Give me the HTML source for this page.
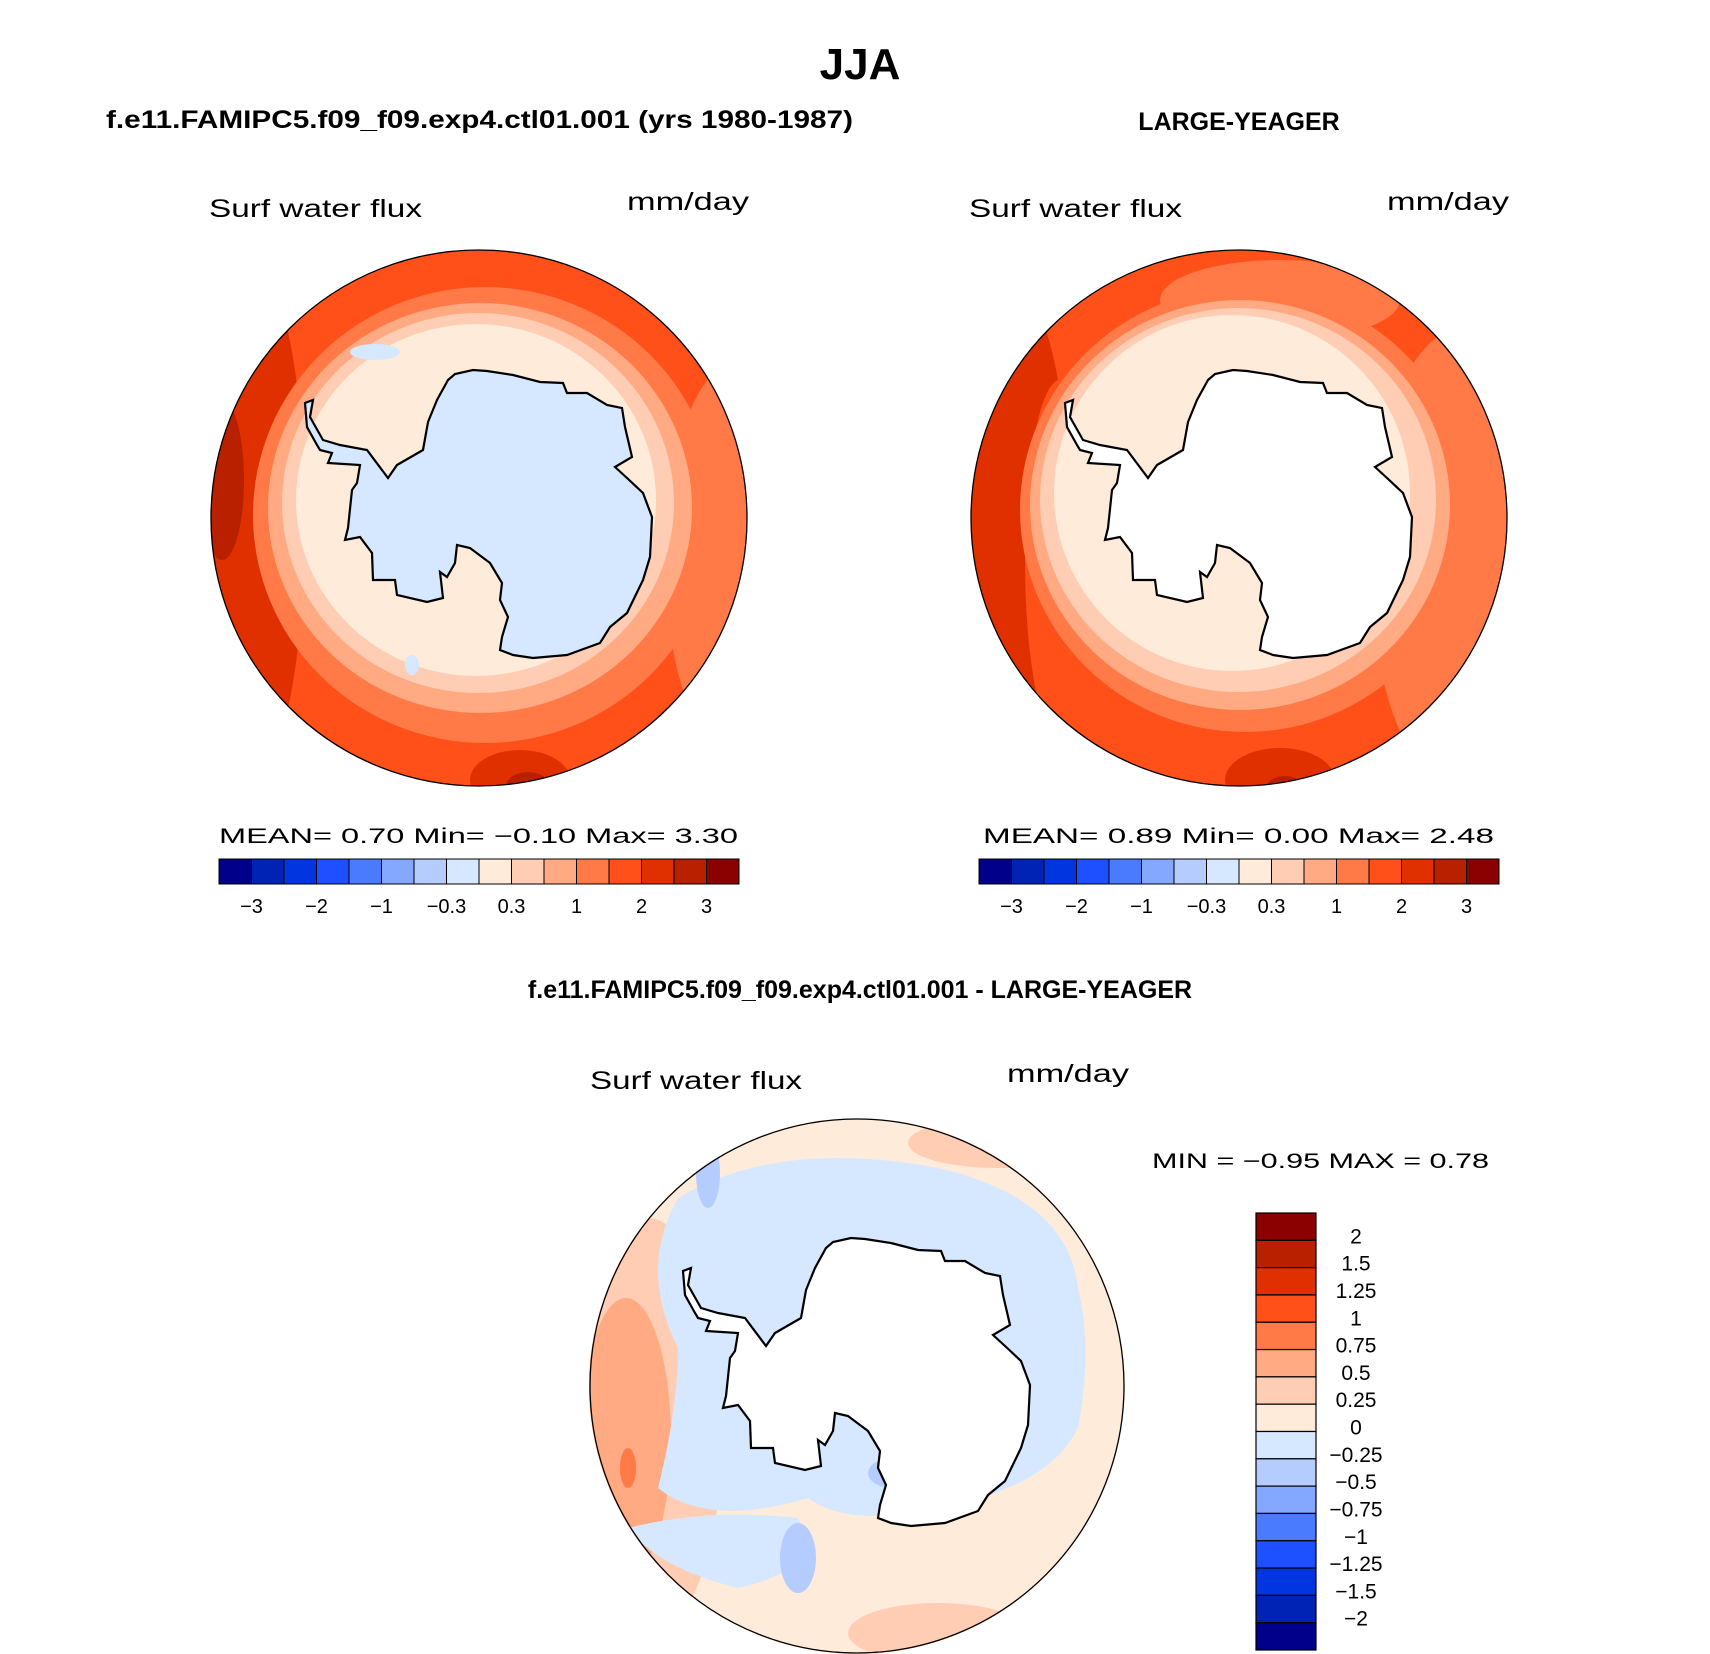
<!DOCTYPE html>
<html><head><meta charset="utf-8"><style>
html,body{margin:0;padding:0;background:#fff;}
svg{display:block;}
text{font-family:"Liberation Sans",sans-serif;fill:#000;}
.b{font-weight:bold;}
</style></head><body>
<svg id="fig" width="1710" height="1654" viewBox="0 0 1710 1654" xmlns="http://www.w3.org/2000/svg">
<defs>
<clipPath id="cl"><circle cx="479" cy="518" r="268"/></clipPath>
<path id="coast" d="M448,380 L455,374 L473,370 L487,371 L513,375 L540,382 L563,383 L567,393 L587,393 L607,405 L622,408 L625,427 L632,457 L615,467 L627,478 L643,493 L652,517 L650,557 L643,580 L627,613 L610,627 L600,643 L567,655 L533,658 L513,655 L500,650 L502,637 L508,617 L500,600 L502,583 L490,563 L470,548 L457,545 L455,563 L447,577 L440,572 L443,598 L427,602 L397,595 L395,580 L373,580 L372,553 L360,537 L345,540 L348,528 L352,490 L357,483 L360,465 L328,463 L332,453 L320,450 L317,445 L307,427 L305,403 L313,400 L310,417 L323,440 L340,445 L367,450 L388,478 L397,465 L423,450 L428,422 L437,400 Z"/>
</defs>
<rect width="1710" height="1654" fill="#fff"/>

<text class="b" x="860" y="79" font-size="44" text-anchor="middle">JJA</text>
<text class="b" x="106" y="128" font-size="25" textLength="747" lengthAdjust="spacingAndGlyphs">f.e11.FAMIPC5.f09_f09.exp4.ctl01.001 (yrs 1980-1987)</text>
<text class="b" x="1239" y="130" font-size="25" text-anchor="middle">LARGE-YEAGER</text>

<text x="209" y="217" font-size="25" textLength="213" lengthAdjust="spacingAndGlyphs">Surf  water  flux</text>
<text x="627" y="210" font-size="25" textLength="122" lengthAdjust="spacingAndGlyphs">mm/day</text>
<text x="969" y="217" font-size="25" textLength="213" lengthAdjust="spacingAndGlyphs">Surf  water  flux</text>
<text x="1387" y="210" font-size="25" textLength="122" lengthAdjust="spacingAndGlyphs">mm/day</text>

<!-- Left map -->
<g>
<g clip-path="url(#cl)">
<rect x="200" y="240" width="560" height="560" fill="#FF5019"/>
<ellipse cx="740" cy="560" rx="75" ry="200" fill="#FF7A47"/>
<ellipse cx="250" cy="520" rx="55" ry="260" fill="#E03000"/>
<ellipse cx="222" cy="480" rx="22" ry="80" fill="#B82000"/>
<ellipse cx="520" cy="780" rx="50" ry="30" fill="#E03000"/>
<ellipse cx="528" cy="786" rx="22" ry="14" fill="#B82000"/>
<ellipse cx="535" cy="790" rx="10" ry="8" fill="#8B0000"/>
<ellipse cx="485" cy="515" rx="232" ry="228" fill="#FF7A47"/>
<ellipse cx="480" cy="508" rx="212" ry="205" fill="#FFAA82"/>
<ellipse cx="478" cy="503" rx="196" ry="190" fill="#FFCDB3"/>
<ellipse cx="476" cy="500" rx="180" ry="176" fill="#FFEBDA"/>
<ellipse cx="375" cy="352" rx="25" ry="8" fill="#D6E8FF"/>
<ellipse cx="412" cy="665" rx="7" ry="10" fill="#D6E8FF"/>
<use href="#coast" fill="#D6E8FF"/>
</g>
<use href="#coast" fill="none" stroke="#000" stroke-width="2.2"/>
<circle cx="479" cy="518" r="268" fill="none" stroke="#000" stroke-width="1.3"/>
</g>

<!-- Right map -->
<g transform="translate(760,0)">
<g clip-path="url(#cl)">
<rect x="200" y="240" width="560" height="560" fill="#FF5019"/>
<ellipse cx="700" cy="560" rx="90" ry="230" fill="#FF7A47"/>
<ellipse cx="520" cy="300" rx="120" ry="40" fill="#FF7A47"/>
<ellipse cx="250" cy="530" rx="60" ry="250" fill="#E03000"/>
<ellipse cx="300" cy="560" rx="35" ry="180" fill="#FF5019"/>
<ellipse cx="520" cy="780" rx="55" ry="32" fill="#E03000"/>
<ellipse cx="525" cy="790" rx="20" ry="14" fill="#B82000"/>
<ellipse cx="485" cy="510" rx="225" ry="222" fill="#FF7A47"/>
<ellipse cx="480" cy="505" rx="210" ry="205" fill="#FFAA82"/>
<ellipse cx="478" cy="500" rx="198" ry="192" fill="#FFCDB3"/>
<ellipse cx="472" cy="493" rx="178" ry="178" fill="#FFEBDA"/>
<use href="#coast" fill="#fff"/>
</g>
<use href="#coast" fill="none" stroke="#000" stroke-width="2.2"/>
<circle cx="479" cy="518" r="268" fill="none" stroke="#000" stroke-width="1.3"/>
</g>

<text x="219" y="843" font-size="21" textLength="519" lengthAdjust="spacingAndGlyphs">MEAN=    0.70   Min=   −0.10   Max=    3.30</text>
<text x="983" y="843" font-size="21" textLength="511" lengthAdjust="spacingAndGlyphs">MEAN=    0.89   Min=    0.00   Max=    2.48</text>
<g id="cbLeft"></g>
<g id="cbRight"></g>

<text class="b" x="860" y="998" font-size="25" text-anchor="middle">f.e11.FAMIPC5.f09_f09.exp4.ctl01.001 - LARGE-YEAGER</text>
<text x="590" y="1089" font-size="25" textLength="212" lengthAdjust="spacingAndGlyphs">Surf  water  flux</text>
<text x="1007" y="1082" font-size="25" textLength="122" lengthAdjust="spacingAndGlyphs">mm/day</text>
<text x="1152" y="1168" font-size="21" textLength="337" lengthAdjust="spacingAndGlyphs">MIN  =   −0.95  MAX  =    0.78</text>

<!-- Difference map -->
<g transform="translate(378,868)">
<g clip-path="url(#cl)">
<rect x="200" y="240" width="560" height="560" fill="#FFEBDA"/>
<ellipse cx="270" cy="560" rx="75" ry="210" fill="#FFCDB3"/>
<ellipse cx="248" cy="570" rx="45" ry="140" fill="#FFAA82"/>
<ellipse cx="250" cy="600" rx="8" ry="20" fill="#FF7A47"/>
<ellipse cx="620" cy="275" rx="90" ry="25" fill="#FFCDB3"/>
<ellipse cx="560" cy="765" rx="90" ry="30" fill="#FFCDB3"/>
<path d="M300,330 Q400,270 560,300 Q690,330 700,420 Q715,480 700,560 Q670,620 560,640 Q470,660 430,630 Q330,660 280,620 Q300,540 300,480 Q260,400 300,330 Z" fill="#D6E8FF"/>
<path d="M250,660 Q330,640 420,650 Q450,700 360,720 Q280,700 250,660 Z" fill="#D6E8FF"/>
<ellipse cx="330" cy="305" rx="12" ry="35" fill="#B5CCFF"/>
<ellipse cx="420" cy="690" rx="18" ry="35" fill="#B5CCFF"/>
<ellipse cx="515" cy="605" rx="25" ry="15" fill="#B5CCFF"/>
<use href="#coast" fill="#fff"/>
</g>
<use href="#coast" fill="none" stroke="#000" stroke-width="2.2"/>
<circle cx="479" cy="518" r="267" fill="none" stroke="#000" stroke-width="1.3"/>
</g>
<g id="cbDiff"></g>
</svg>
<script>
const mainColors = ["#00008B","#0022B5","#0035E0","#1E50FF","#4A7BFF","#84A8FF","#B5CCFF","#D6E8FF","#FFEBDA","#FFCDB3","#FFAA82","#FF7A47","#FF5019","#E03000","#B82000","#8B0000"];
const mainLabels = ["−3","−2","−1","−0.3","0.3","1","2","3"];
const diffLabels = ["2","1.5","1.25","1","0.75","0.5","0.25","0","−0.25","−0.5","−0.75","−1","−1.25","−1.5","−2"];
const NS = "http://www.w3.org/2000/svg";
function mk(tag, attrs, parent){ const e=document.createElementNS(NS,tag); for(const k in attrs) e.setAttribute(k,attrs[k]); parent.appendChild(e); return e; }
function hbar(id, x0, x1, y0, y1){
  const g=document.getElementById(id);
  const w=(x1-x0)/mainColors.length;
  mainColors.forEach((c,i)=>{
    const r=mk("rect",{x:x0+i*w,y:y0,width:w,height:y1-y0,fill:c,stroke:"#000","stroke-width":1},g);
    
    
  });
  mainLabels.forEach((t,i)=>{
    const tx=mk("text",{x:x0+(2*i+1)*w,y:y1+29,"font-size":20,"text-anchor":"middle"},g);
    tx.textContent=t;
    
    
  });
}
hbar("cbLeft",219,739,859,884);
hbar("cbRight",979,1499,859,884);
(function(){
  const g=document.getElementById("cbDiff");
  const x0=1256,x1=1316,y0=1213,y1=1650;
  const h=(y1-y0)/mainColors.length;
  const rev=mainColors.slice().reverse();
  rev.forEach((c,i)=>{
    const r=mk("rect",{x:x0,y:y0+i*h,width:x1-x0,height:h,fill:c,stroke:"#000","stroke-width":1.2},g);
    
    
  });
  diffLabels.forEach((t,i)=>{
    const tx=mk("text",{x:1356,y:y0+(i+1)*h+3,"font-size":21,"text-anchor":"middle"},g);
    tx.textContent=t;
    
    
  });
})();
</script>
</body></html>
